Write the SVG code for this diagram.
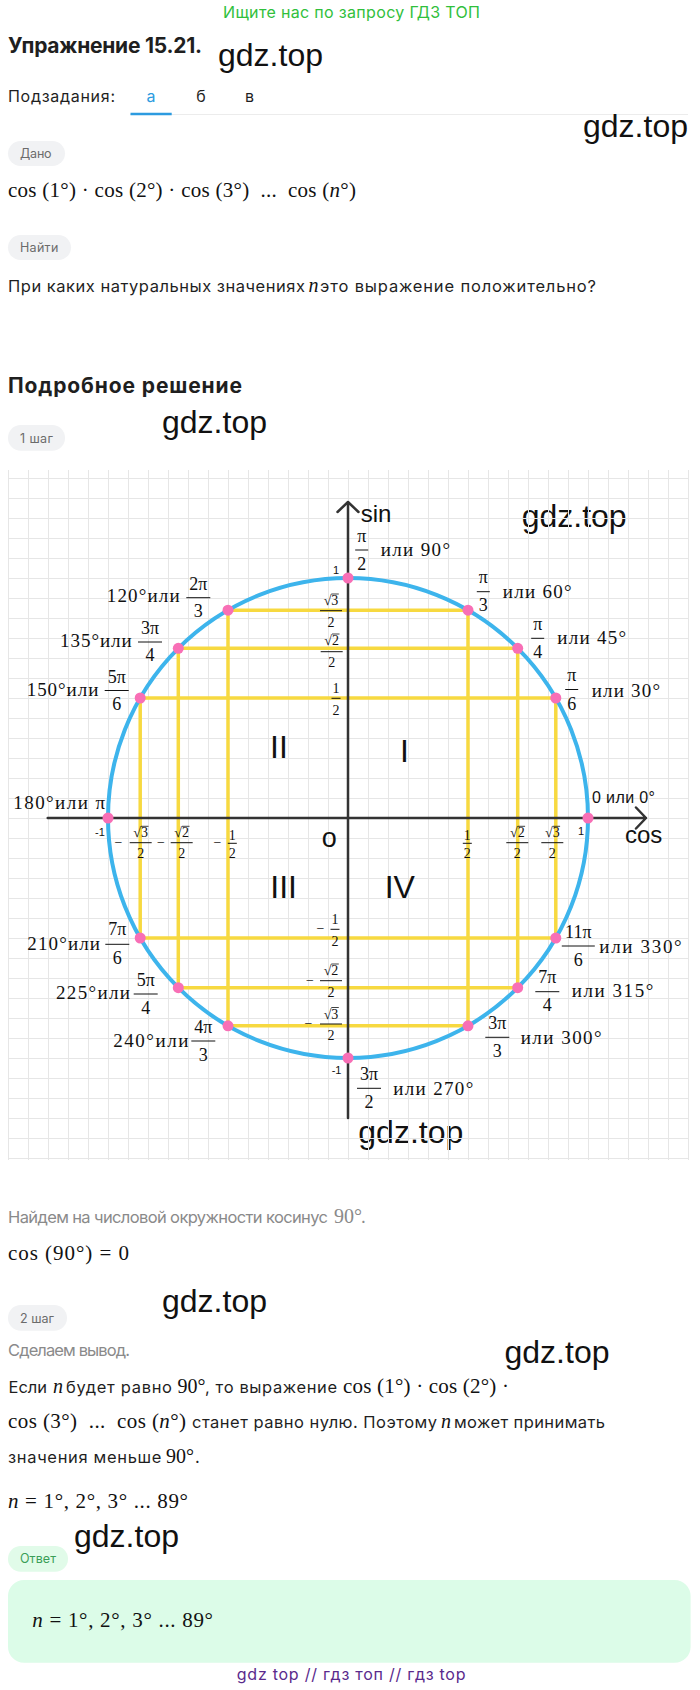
<svg xmlns="http://www.w3.org/2000/svg" width="700" height="1690" viewBox="0 0 700 1690">
<style>
.s{font-family:Inter,Roboto,"Liberation Sans",sans-serif;fill:#1f1f1f}
.g{fill:#8a8a8a}
.m{font-family:"Liberation Serif","DejaVu Serif",serif;fill:#111}
.mg{fill:#8a8a8a}
.i{font-style:italic}
.wm{font-family:"Liberation Sans",Arial,sans-serif;font-size:32px;fill:#111}
.chip{fill:#f1f2f4}
.ct{font-family:Inter,Roboto,"Liberation Sans",sans-serif;font-size:12.5px;fill:#6b6b6b}
.grid{stroke:#e6e6e6;stroke-width:1;fill:none}
.ch{stroke:#f7d940;stroke-width:3.5;fill:none}
.ax{stroke:#333;stroke-width:2.5;fill:none;stroke-linecap:round;stroke-linejoin:round}
.pt{fill:#f86fb6}
.lb{font-size:19px}
.fr{font-size:18px;text-anchor:middle}
.sm{font-size:14px;text-anchor:middle}
.bar{stroke:#111;stroke-width:1}
.bs{stroke:#111;stroke-width:0.8}
.al{font-family:"Liberation Sans",Arial,sans-serif;fill:#111}
.b17{font-size:16.5px}
</style>
<rect width="700" height="1690" fill="#fff"/>

<g id="header">
<text class="s" x="223" y="17.5" font-size="16" style="fill:#30c03c" textLength="257" lengthAdjust="spacing">Ищите нас по запросу ГДЗ ТОП</text>
<text class="s" x="8" y="53.3" font-size="21" font-weight="bold" textLength="194" lengthAdjust="spacing">Упражнение 15.21.</text>
<text class="s" x="8" y="101.7" font-size="16" textLength="107" lengthAdjust="spacing">Подзадания:</text>
<text class="s" x="151" y="101.7" font-size="16" text-anchor="middle" style="fill:#2c9be0">а</text>
<text class="s" x="201" y="101.7" font-size="16" text-anchor="middle">б</text>
<text class="s" x="249.6" y="101.7" font-size="16" text-anchor="middle">в</text>
<line x1="130" y1="114.5" x2="688" y2="114.5" stroke="#ececec" stroke-width="1"/>
<line x1="130.5" y1="114" x2="171.7" y2="114" stroke="#2c9be0" stroke-width="2.5"/>
</g>

<g id="watermarks">
<text class="wm" x="218" y="66">gdz.top</text>
<text class="wm" x="583" y="137">gdz.top</text>
<text class="wm" x="162" y="433.3">gdz.top</text>
<text class="wm" x="521.7" y="526.7">gdz.top</text>
<text class="wm" x="358.3" y="1143.3">gdz.top</text>
<text class="wm" x="162" y="1311.7">gdz.top</text>
<text class="wm" x="504.5" y="1363.3">gdz.top</text>
<text class="wm" x="74" y="1546.7">gdz.top</text>
</g>

<g id="given">
<rect class="chip" x="8" y="141" width="57" height="25" rx="12.5"/>
<text class="ct" x="20" y="157.7" textLength="31.6" lengthAdjust="spacing">Дано</text>
<text class="m" x="8" y="196.7" font-size="21" textLength="348" lengthAdjust="spacing" xml:space="preserve">cos (1°) · cos (2°) · cos (3°)  ...  cos (<tspan class="i">n</tspan>°)</text>
</g>

<g id="find">
<rect class="chip" x="8" y="235" width="63" height="25" rx="12.5"/>
<text class="ct" x="20" y="251.7" textLength="38.3" lengthAdjust="spacing">Найти</text>
<text class="s b17" x="8" y="291.7" textLength="297" lengthAdjust="spacing">При каких натуральных значениях</text>
<text class="m i" x="308.5" y="291.7" font-size="20">n</text>
<text class="s b17" x="320" y="291.7" textLength="276" lengthAdjust="spacing">это выражение положительно?</text>
</g>

<g id="step1">
<text class="s" x="8" y="393.3" font-size="21" font-weight="bold" textLength="234" lengthAdjust="spacing">Подробное решение</text>
<rect class="chip" x="8" y="425" width="57" height="25.7" rx="12.8"/>
<text class="ct" x="20" y="442.7" textLength="33" lengthAdjust="spacing">1 шаг</text>
</g>

<g id="diagram">
<path class="grid" shape-rendering="crispEdges" d="M8.5 470V1160M28.5 470V1160M48.5 470V1160M68.5 470V1160M88.5 470V1160M108.5 470V1160M128.5 470V1160M148.5 470V1160M168.5 470V1160M188.5 470V1160M208.5 470V1160M228.5 470V1160M248.5 470V1160M268.5 470V1160M288.5 470V1160M308.5 470V1160M328.5 470V1160M348.5 470V1160M368.5 470V1160M388.5 470V1160M408.5 470V1160M428.5 470V1160M448.5 470V1160M468.5 470V1160M488.5 470V1160M508.5 470V1160M528.5 470V1160M548.5 470V1160M568.5 470V1160M588.5 470V1160M608.5 470V1160M628.5 470V1160M648.5 470V1160M668.5 470V1160M688.5 470V1160
M8 478.5H689M8 498.5H689M8 518.5H689M8 538.5H689M8 558.5H689M8 578.5H689M8 598.5H689M8 618.5H689M8 638.5H689M8 658.5H689M8 678.5H689M8 698.5H689M8 718.5H689M8 738.5H689M8 758.5H689M8 778.5H689M8 798.5H689M8 818.5H689M8 838.5H689M8 858.5H689M8 878.5H689M8 898.5H689M8 918.5H689M8 938.5H689M8 958.5H689M8 978.5H689M8 998.5H689M8 1018.5H689M8 1038.5H689M8 1058.5H689M8 1078.5H689M8 1098.5H689M8 1118.5H689M8 1138.5H689M8 1158.5H689"/>

<g id="chords">
<path class="ch" d="M228 610.2H468M178.3 648.3H517.7M140.2 698H555.8M140.2 938H555.8M178.3 987.7H517.7M228 1025.8H468
M140.2 698V938M178.3 648.3V987.7M228 610.2V1025.8M468 610.2V1025.8M517.7 648.3V987.7M555.8 698V938"/>
</g>

<g id="axes">
<path class="ax" d="M47.7 818H646M636 807.5L646 818L636 828.5"/>
<path class="ax" d="M348 1118V502M337.5 512L348 502L358.5 512"/>
</g>

<circle id="unit-circle" cx="348" cy="818" r="240" fill="none" stroke="#3db4ec" stroke-width="4"/>

<g id="points">
<circle class="pt" cx="588" cy="818" r="5.5"/>
<circle class="pt" cx="555.8" cy="698" r="5.5"/>
<circle class="pt" cx="517.7" cy="648.3" r="5.5"/>
<circle class="pt" cx="468" cy="610.2" r="5.5"/>
<circle class="pt" cx="348" cy="578" r="5.5"/>
<circle class="pt" cx="228" cy="610.2" r="5.5"/>
<circle class="pt" cx="178.3" cy="648.3" r="5.5"/>
<circle class="pt" cx="140.2" cy="698" r="5.5"/>
<circle class="pt" cx="108" cy="818" r="5.5"/>
<circle class="pt" cx="140.2" cy="938" r="5.5"/>
<circle class="pt" cx="178.3" cy="987.7" r="5.5"/>
<circle class="pt" cx="228" cy="1025.8" r="5.5"/>
<circle class="pt" cx="348" cy="1058" r="5.5"/>
<circle class="pt" cx="468" cy="1025.8" r="5.5"/>
<circle class="pt" cx="517.7" cy="987.7" r="5.5"/>
<circle class="pt" cx="555.8" cy="938" r="5.5"/>
</g>

<g id="axis-labels">
<text class="al" x="360.7" y="522" font-size="24">sin</text>
<text class="al" x="625" y="843.3" font-size="24">cos</text>
<text class="al" x="592" y="802.7" font-size="16" textLength="63" lengthAdjust="spacing">0 или 0°</text>
<text class="al" x="333" y="574" font-size="11">1</text>
<text class="al" x="95" y="836" font-size="11">-1</text>
<text class="al" x="578" y="835" font-size="11">1</text>
<text class="al" x="331.7" y="1074" font-size="11">-1</text>
<text class="al" x="321.7" y="846.7" font-size="27">o</text>
<text class="al" x="270" y="758.3" font-size="32">II</text>
<text class="al" x="400" y="761.7" font-size="32">I</text>
<text class="al" x="270.3" y="897.7" font-size="32">III</text>
<text class="al" x="384.7" y="897.7" font-size="32">IV</text>
</g>

<g id="angle-labels">
<text class="m lb" x="106.7" y="601.7" textLength="73" lengthAdjust="spacing">120°или</text>
<text class="m fr" x="198.3" y="589.5">2π</text><line class="bar" x1="186.3" y1="597.7" x2="210.3" y2="597.7"/><text class="m fr" x="198.3" y="616.7">3</text>

<text class="m lb" x="60" y="646.7" textLength="71.7" lengthAdjust="spacing">135°или</text>
<text class="m fr" x="150" y="633.5">3π</text><line class="bar" x1="138" y1="642" x2="162" y2="642"/><text class="m fr" x="150" y="661">4</text>

<text class="m lb" x="26.7" y="696" textLength="71.6" lengthAdjust="spacing">150°или</text>
<text class="m fr" x="116.7" y="682.5">5π</text><line class="bar" x1="104.7" y1="690.5" x2="128.7" y2="690.5"/><text class="m fr" x="116.7" y="709.5">6</text>

<text class="m lb" x="13.3" y="809.3" textLength="91.7" lengthAdjust="spacing">180°или π</text>

<text class="m lb" x="27.3" y="950" textLength="72.7" lengthAdjust="spacing">210°или</text>
<text class="m fr" x="117.3" y="935">7π</text><line class="bar" x1="105.3" y1="944.3" x2="129.3" y2="944.3"/><text class="m fr" x="117.3" y="963.5">6</text>

<text class="m lb" x="56" y="999.3" textLength="74" lengthAdjust="spacing">225°или</text>
<text class="m fr" x="145.7" y="985.5">5π</text><line class="bar" x1="133.7" y1="994" x2="157.7" y2="994"/><text class="m fr" x="145.7" y="1013.5">4</text>

<text class="m lb" x="113.3" y="1046.7" textLength="75" lengthAdjust="spacing">240°или</text>
<text class="m fr" x="203.3" y="1032.5">4π</text><line class="bar" x1="191.3" y1="1041" x2="215.3" y2="1041"/><text class="m fr" x="203.3" y="1060.5">3</text>

<text class="m fr" x="361.7" y="542">π</text><line class="bar" x1="355.2" y1="550" x2="368.2" y2="550"/><text class="m fr" x="361.7" y="569.5">2</text>
<text class="m lb" x="380.7" y="556" textLength="69.3" lengthAdjust="spacing">или 90°</text>

<text class="m fr" x="483.3" y="583.2">π</text><line class="bar" x1="476.8" y1="591.7" x2="489.8" y2="591.7"/><text class="m fr" x="483.3" y="611">3</text>
<text class="m lb" x="502.7" y="598.3" textLength="69" lengthAdjust="spacing">или 60°</text>

<text class="m fr" x="537.7" y="629.8">π</text><line class="bar" x1="531.2" y1="638.3" x2="544.2" y2="638.3"/><text class="m fr" x="537.7" y="657.5">4</text>
<text class="m lb" x="557.3" y="644" textLength="68.7" lengthAdjust="spacing">или 45°</text>

<text class="m fr" x="571.7" y="681">π</text><line class="bar" x1="565.2" y1="689.5" x2="578.2" y2="689.5"/><text class="m fr" x="571.7" y="709.5">6</text>
<text class="m lb" x="591.7" y="696.7" textLength="68.3" lengthAdjust="spacing">или 30°</text>

<text class="m fr" x="578.3" y="937.5">11π</text><line class="bar" x1="561.8" y1="946" x2="594.8" y2="946"/><text class="m fr" x="578.3" y="965.5">6</text>
<text class="m lb" x="599.3" y="952.7" textLength="82.4" lengthAdjust="spacing">или 330°</text>

<text class="m fr" x="547.3" y="983.2">7π</text><line class="bar" x1="535.3" y1="991.7" x2="559.3" y2="991.7"/><text class="m fr" x="547.3" y="1011.2">4</text>
<text class="m lb" x="571.7" y="997.3" textLength="81.6" lengthAdjust="spacing">или 315°</text>

<text class="m fr" x="497.3" y="1028.8">3π</text><line class="bar" x1="485.3" y1="1037.3" x2="509.3" y2="1037.3"/><text class="m fr" x="497.3" y="1056.8">3</text>
<text class="m lb" x="520.7" y="1044" textLength="81" lengthAdjust="spacing">или 300°</text>

<text class="m fr" x="369" y="1079.8">3π</text><line class="bar" x1="357" y1="1088.3" x2="381" y2="1088.3"/><text class="m fr" x="369" y="1107.8">2</text>
<text class="m lb" x="393.3" y="1095" textLength="80" lengthAdjust="spacing">или 270°</text>
</g>

<g id="value-labels">
<text class="m sm" x="331" y="605">√3</text><line class="bs" x1="331.3" y1="594" x2="338.8" y2="594"/><line class="bar" x1="320" y1="610.7" x2="342" y2="610.7"/><text class="m sm" x="331" y="626.5">2</text>
<text class="m sm" x="331.7" y="645">√2</text><line class="bs" x1="332" y1="634" x2="339.5" y2="634"/><line class="bar" x1="320.7" y1="651.7" x2="342.7" y2="651.7"/><text class="m sm" x="331.7" y="666.5">2</text>
<text class="m sm" x="336" y="692.7">1</text><line class="bar" x1="331.5" y1="698.3" x2="340.5" y2="698.3"/><text class="m sm" x="336" y="714.8">2</text>

<text class="m sm" x="118.5" y="846.5">−</text>
<text class="m sm" x="140.7" y="837.3">√3</text><line class="bs" x1="141" y1="826.3" x2="148.5" y2="826.3"/><line class="bar" x1="129.7" y1="842.7" x2="151.7" y2="842.7"/><text class="m sm" x="140.7" y="857.5">2</text>
<text class="m sm" x="161" y="846.5">−</text>
<text class="m sm" x="181.7" y="837.3">√2</text><line class="bs" x1="182" y1="826.3" x2="189.5" y2="826.3"/><line class="bar" x1="170.7" y1="842.7" x2="192.7" y2="842.7"/><text class="m sm" x="181.7" y="857.5">2</text>
<text class="m sm" x="217.5" y="846.8">−</text>
<text class="m sm" x="232.3" y="840">1</text><line class="bar" x1="227.8" y1="843.3" x2="236.8" y2="843.3"/><text class="m sm" x="232.3" y="857.5">2</text>

<text class="m sm" x="467.3" y="840">1</text><line class="bar" x1="462.8" y1="843.3" x2="471.8" y2="843.3"/><text class="m sm" x="467.3" y="857.5">2</text>
<text class="m sm" x="517.3" y="837.3">√2</text><line class="bs" x1="517.6" y1="826.3" x2="525.1" y2="826.3"/><line class="bar" x1="506.3" y1="842.7" x2="528.3" y2="842.7"/><text class="m sm" x="517.3" y="857.5">2</text>
<text class="m sm" x="552.3" y="837.3">√3</text><line class="bs" x1="552.6" y1="826.3" x2="560.1" y2="826.3"/><line class="bar" x1="541.3" y1="842.7" x2="563.3" y2="842.7"/><text class="m sm" x="552.3" y="857.5">2</text>

<text class="m sm" x="320.5" y="933.2">−</text>
<text class="m sm" x="335" y="924">1</text><line class="bar" x1="330.5" y1="929.3" x2="339.5" y2="929.3"/><text class="m sm" x="335" y="946.3">2</text>
<text class="m sm" x="310" y="984.5">−</text>
<text class="m sm" x="331" y="975">√2</text><line class="bs" x1="331.3" y1="964" x2="338.8" y2="964"/><line class="bar" x1="320" y1="980.7" x2="342" y2="980.7"/><text class="m sm" x="331" y="996.8">2</text>
<text class="m sm" x="308.5" y="1027.8">−</text>
<text class="m sm" x="331" y="1018.5">√3</text><line class="bs" x1="331.3" y1="1007.5" x2="338.8" y2="1007.5"/><line class="bar" x1="320" y1="1024" x2="342" y2="1024"/><text class="m sm" x="331" y="1040">2</text>
</g>
</g>

<g id="step1-text">
<text class="s g b17" x="8" y="1222.7" textLength="320" lengthAdjust="spacing">Найдем на числовой окружности косинус</text>
<text class="m mg" x="334" y="1222.7" font-size="20">90°</text>
<text class="s g b17" x="361" y="1222.7">.</text>
<text class="m" x="8" y="1260" font-size="21" textLength="121" lengthAdjust="spacing">cos (90°) = 0</text>
</g>

<g id="step2">
<rect class="chip" x="8" y="1305" width="59" height="25.7" rx="12.8"/>
<text class="ct" x="20" y="1322.7" textLength="34" lengthAdjust="spacing">2 шаг</text>
<text class="s g b17" x="8" y="1356" textLength="122" lengthAdjust="spacing">Сделаем вывод.</text>
<text class="s b17" x="8.5" y="1392.7">Если</text>
<text class="m i" x="53" y="1392.7" font-size="20">n</text>
<text class="s b17" x="66" y="1392.7" textLength="106" lengthAdjust="spacing">будет равно</text>
<text class="m" x="177.5" y="1392.7" font-size="20">90°</text>
<text class="s b17" x="205" y="1392.7" textLength="132" lengthAdjust="spacing">, то выражение</text>
<text class="m" x="343" y="1392.7" font-size="21" textLength="166" lengthAdjust="spacing">cos (1°) · cos (2°) ·</text>
<text class="m" x="8" y="1428" font-size="21" textLength="178" lengthAdjust="spacing" xml:space="preserve">cos (3°)  ...  cos (<tspan class="i">n</tspan>°)</text>
<text class="s b17" x="192" y="1428" textLength="245" lengthAdjust="spacing">станет равно нулю. Поэтому</text>
<text class="m i" x="441" y="1428" font-size="20">n</text>
<text class="s b17" x="454" y="1428" textLength="151" lengthAdjust="spacing">может принимать</text>
<text class="s b17" x="8" y="1463.3" textLength="153.4" lengthAdjust="spacing">значения меньше</text>
<text class="m" x="166" y="1463.3" font-size="20">90°</text>
<text class="s b17" x="195" y="1463.3">.</text>
<text class="m" x="8" y="1508.3" font-size="21" textLength="180" lengthAdjust="spacing"><tspan class="i">n</tspan> = 1°, 2°, 3° ... 89°</text>
</g>

<g id="answer">
<rect x="8" y="1546" width="60" height="25.7" rx="12.8" fill="#e1fbe9"/>
<text class="s" x="20" y="1563.3" font-size="12.5" style="fill:#3a9e57" textLength="36" lengthAdjust="spacing">Ответ</text>
<rect x="8" y="1580" width="682.6" height="82.7" rx="16" fill="#dcfce8"/>
<text class="m" x="32.3" y="1626.7" font-size="21" textLength="180.7" lengthAdjust="spacing"><tspan class="i">n</tspan> = 1°, 2°, 3° ... 89°</text>
</g>

<g id="footer">
<text class="s" x="236.8" y="1680" font-size="16" style="fill:#5a2a8c" textLength="228.7" lengthAdjust="spacing">gdz top  //  гдз топ  //  гдз top</text>
</g>
</svg>
